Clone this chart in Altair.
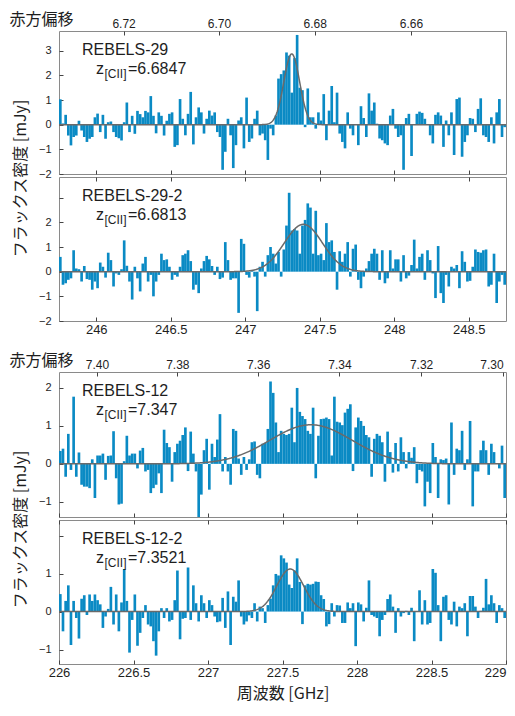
import altair as alt
import pandas as pd

REST_FREQ_GHZ = 1900.537

freq_range_top = [245.75, 248.75]
freq_range_bottom = [226.0, 229.0]
freq_ticks_top = [246.0, 246.5, 247.0, 247.5, 248.0, 248.5]
freq_ticks_bottom = [226.0, 226.5, 227.0, 227.5, 228.0, 228.5, 229.0]
z_ticks_top = [6.72, 6.70, 6.68, 6.66]
z_ticks_bottom = [7.40, 7.38, 7.36, 7.34, 7.32, 7.30]

source_names = ["REBELS-29", "REBELS-29-2", "REBELS-12", "REBELS-12-2"]
z_cii_values = ["=6.6847", "=6.6813", "=7.347", "=7.3521"]

fit_amplitude = [2.87, 1.92, 1.03, 1.12]
fit_center_ghz = [247.312, 247.39, 227.691, 227.552]
fit_sigma_ghz = [0.053, 0.128, 0.275, 0.09]

y_domains = [[-2.0, 3.8], [-2.0, 3.84], [-1.4, 2.42], [-1.38, 2.41]]
y_ticks = [[-2, -1, 0, 1, 2, 3], [-2, -1, 0, 1, 2, 3], [-1, 0, 1, 2], [-1, 0, 1, 2]]
y_hidden = [[], [3], [], [2]]

flux_rebels29 = [
    1.03, 0.05, 0.4, -0.44, -0.84, -0.5, -0.44, 0.16, -0.24, -0.5,
    -0.7, -0.57, -0.5, 0.3, 0.45, -0.3, 0.4, -0.57, 0.1, 0.13,
    -0.3, -0.5, -0.55, -0.64, 0.1, 0.9, -0.3, 0.36, -0.37, 0.56,
    0.43, 0.3, 0.56, 0.5, 1.16, 0.36, -0.35, 0.5, 0.36, -0.44,
    0.16,
    0.44, 0.5, -0.9, -0.83, 1.04, 0.24, -0.43, 0.44, 1.33, -0.8,
    0.3, 0.7, 0.5, -0.36, 0.24, 0.57, 0.37, 0.5, -0.3, -0.5,
    -1.83, -1.1, 0.24, -0.43, -1.76, -0.83, 0.17, 0.3, -0.96, 1.1,
    -0.7, -0.56, 0.24, 0.57, -0.43, -0.36, -0.63, -1.43, -0.16, -0.43,
    0.37,
    1.87, 2.05, 2.2, 2.93, 2.8, 1.3, 2.7, 3.64, 1.5, 1.4,
    -0.1, 1.47, 0.3, 0.3, -0.16, 0.5, 0.17, 1.24, -0.63, 0.57,
    1.57, 0.1, 1.3, -0.36, -0.7, -0.96, 0.5, -0.16, -0.43, 0.0,
    -0.83, 0.75, 0.27, -0.5, 1.27, 0.57, 0.9, 0.04, -0.56, -0.63,
    -0.76, -0.83, 0.37, 0.64, -0.16, -0.5, -0.43, -1.83, 0.27, 0.44,
    -1.27, 0.0, 0.44, 0.53, 0.48, 0.24, 0.0, -0.43, -0.76, 0.4,
    0.5, 0.37, -0.9, 0.17, -0.43, 0.5, -1.23, 1.04, 1.1, -1.3,
    -0.7, -0.43, 0.27, 0.24, -0.3, 0.64, 1.07, -0.43, -0.5, -0.7,
    0.3, -0.76, 0.5, 1.04, -0.5, -0.1,
]

flux_rebels29_2 = [
    0.6, -0.53, -0.47, -0.33, -0.27, 0.87, 0.13, 0.1, -0.4,
    0.23, -0.3, -0.33, -0.73, -0.4, -0.67, 0.37, 0.2, -0.24, 0.77,
    0.47, -0.6, -0.07, -0.13, 0.1, 1.27, 0.24, -0.4, -1.13,
    0.2, -0.27, -0.8, 0.33, 0.6, -0.4, -0.13, -1.0, -0.4, -0.13,
    0.73, 0.47, 0.5, 0.2, -0.33, -0.13, -0.2, 0.2, 0.67,
    0.73, 0.87, 0.43, -0.73, -0.53, -0.87, 0.13, 0.43, 0.64, 0.5,
    0.23, -0.13, 0.2, -0.3, -0.24, 1.2, 0.47, -0.33, -0.27,
    -0.27, -1.67, 1.33, 1.13, -0.13, -0.24, 0.07, -0.2, -1.6, 0.2,
    0.4, -0.2, 0.67, 1.0, 0.73, 0.33,
    0.8, -0.2, 0.9, 1.87, 3.2, 1.67, 1.73, 1.67, 0.73, 1.87,
    2.1, 2.77, 2.6, 0.73, 2.47, 0.67, 0.73, 0.47, 1.97, 1.2,
    1.27, 0.8, -0.73, 0.83, 0.4, 0.73, 1.2, -0.2, 0.93, 1.1,
    -0.33, -0.67, -0.2, 0.13, 0.43, 0.73, 0.93, 0.73, -0.33,
    0.87, -0.47, -0.27, 0.87, 0.13, 0.5, 0.5, -0.4, 0.67,
    -0.27, -0.16, 0.27, 1.3, 0.13, 0.6, 0.73, -0.33, 0.87,
    0.47, -0.07, -1.07, 1.04, -0.87, -1.27, -0.13, -0.6, 0.2, 0.13,
    0.27, -0.67, 0.83, 0.4, -0.4, -0.37, 0.2, 0.9, 0.8,
    0.77, 0.87, 0.9, -0.6, -0.53, 0.73, -1.27, -0.4, -0.13,
    -0.53,
]

flux_rebels12 = [
    0.34, 0.4, -0.34, 0.79, -0.16, 1.77, -0.34, 0.3, -0.55,
    -0.6, -0.6, -0.64, 0.12, -0.9, 0.22, 0.22, 0.27, -0.42, 0.21, 0.22,
    0.86, -0.38, -1.07, -1.05, 0.07, 0.74, 0.22, 0.27,
    0.27, -0.12, 0.35, 0.42, -0.2, -0.16, -0.77, -0.64, -0.55, -0.25,
    -0.77, 0.9, 0.55, 0.44, -0.47, 0.31, 0.53, 0.61, 0.76, 0.96,
    -0.19, 0.85, 0.27, -0.2, -1.45, -0.81, 0.36, 0.66, -0.68, 0.53,
    0.18, 0.64, 1.31, -0.2, 0.18, -0.2, -0.55, 0.92, 0.87, 0.14,
    -0.29, 0.18, -0.16, 0.12, 0.57, 0.59, -0.29, -0.38, 0.53, 0.55,
    0.92, 2.17, 1.87, 1.09, 0.31, 0.87, 0.79,
    0.76, 0.79, 1.48, 0.57, 2.0, 1.37, 1.26, 1.18, 0.87,
    0.79, 1.48, -0.38, 0.74, 1.18, 1.19, 1.22, 1.18, 0.22, 1.77,
    1.11, 1.09, 1.02, 1.35,
    1.45, 1.57, -0.19, 0.96, 1.22, 1.13, 1.0, 0.76, 0.7, -0.34,
    0.66, 0.79, 0.74, 0.57, -0.47, 0.85, 0.31, -0.23, 0.55, -0.2,
    0.7, 0.31,
    -0.12, 0.31, 0.16, 0.44, -0.51, -0.16,
    -0.2, -1.12, -0.47, -0.77, 0.55, 0.18, -0.9, 0.12,
    0.1, 0.14, -1.07, 1.09, -0.29, 0.4, 0.36, 0.87,
    -0.16, 0.12, 1.13, -1.12, -0.2, -0.2, 0.36, 0.61, 0.36, -0.29,
    0.53, 0.31, 0.0, -0.12, 0.48, -0.9,
]

flux_rebels12_2 = [
    0.46, -0.52, 0.28, 0.69, -0.88, 0.28, -0.17, -0.71, 0.34, 0.43,
    -0.09, 0.45, 0.28, 0.45, 0.3, 0.19, -0.43, -0.13, 0.07,
    0.65, -0.34, 0.45, -0.52, 0.24, 1.12, 0.28, -1.08, -0.22, 0.45,
    -0.9, -0.56, -0.17, 0.17, -0.34, -0.39, -0.78, -1.16, -0.52,
    0.09, -0.17, 0.09, -0.26, -0.22, 0.3, 1.08, -0.73, -0.19, -0.17,
    1.16, -0.22, 0.69, 0.22, -0.26, 0.43, 0.22, -0.17, 0.3, 0.17,
    -0.13, -0.28, -0.26, 0.36, -0.43, 0.53, -0.88, 0.39, 0.26, 0.82,
    -0.13, -0.34, -0.26, -0.1, -0.17, 0.22, -0.26, 0.13, 0.09, -0.3,
    0.17, 0.34, 0.69, 0.99,
    0.95, 1.48, 1.4, 1.29, 0.71, 0.62, 1.08, 1.4, 0.78, -0.33,
    0.69, 0.73, 0.71, 0.73, 0.79, 0.78, 0.43, 0.33, -0.39, -0.33,
    0.22, -0.13, 0.17, 0.16, -0.3, -0.3, 0.24, 0.09, 0.22, -0.91,
    0.24, 0.19, -0.26, 0.1, 0.82, -0.09, -0.13, -0.17, -0.65, -0.22,
    -0.09, 0.33, 0.45, 0.13, -0.56, 0.09, -0.13, -0.04, 0.02, -0.09,
    0.1, -0.78, 0.0, 0.56, -0.34, 0.3, -0.34, -0.3, 1.12, 1.02,
    0.17, -0.78, 0.39, 0.43, -0.22, -0.34, 0.26, -0.39, 0.13, 0.09,
    0.22, -0.65, 0.41, 0.41, 0.13, -0.17, 0.02, 0.1, 0.86, 0.19,
    0.43, 0.22, -0.3, 0.17, 0.09, -0.17,
]

fluxes = [flux_rebels29, flux_rebels29_2, flux_rebels12, flux_rebels12_2]

BAR_COLOR = "#0a8ac4"
FIT_COLOR = "#6a6a6a"
TXT = "#1e1e1e"
TICK = "#444444"
NUM_FONT = "Liberation Sans"
JP_FONT = "Noto Sans CJK JP"
PLOT_W = 447
HEIGHTS = [143, 144, 145, 144]


def make_panel(i, frange, fticks, zticks, freq_labels, ytitle_y, xtitle):
    flux = fluxes[i]
    n = len(flux)
    w = (frange[1] - frange[0]) / n
    df = pd.DataFrame({
        "lo": [frange[0] + k * w for k in range(n)],
        "hi": [frange[0] + (k + 1) * w for k in range(n)],
        "flux": flux,
    })
    xs = alt.Scale(domain=frange, nice=False, zero=False)
    ys = alt.Scale(domain=y_domains[i], nice=False, zero=False)

    if y_hidden[i]:
        cond = " || ".join(f"datum.value == {v}" for v in y_hidden[i])
        lab_expr = f"({cond}) ? '' : datum.label"
    else:
        lab_expr = "datum.label"

    ykw = dict(values=y_ticks[i], offset=-4, tickSize=4, domain=False, grid=False,
               tickColor=TICK, labelFont=NUM_FONT, labelFontSize=11, labelColor=TXT,
               labelPadding=8, labelExpr=lab_expr)
    if ytitle_y is not None:
        ykw.update(title="フラックス密度 [mJy]", titleFont=JP_FONT, titleFontSize=16,
                   titleFontWeight="normal", titleColor=TXT, titleX=-35, titleY=ytitle_y,
                   titleAlign="center", titleBaseline="bottom")
    else:
        ykw.update(title=None)
    yaxis = alt.Axis(**ykw)

    bkw = dict(orient="bottom", values=fticks, offset=-4, tickSize=4, domain=False,
               grid=False, tickColor=TICK, labels=freq_labels, labelFont=NUM_FONT,
               labelFontSize=13, labelColor=TXT, labelPadding=2, format="~g")
    if freq_labels:
        bkw["labelAlign"] = {"condition": {"test": f"datum.value >= {frange[1] - 0.001}",
                                           "value": "right"}, "value": "center"}
    if xtitle:
        bkw.update(title="周波数 [GHz]", titleFont=JP_FONT, titleFontSize=16,
                   titleFontWeight="normal", titleColor=TXT, titlePadding=6)
    else:
        bkw.update(title=None)
    bottom_axis = alt.Axis(**bkw)

    if zticks:
        tkw = dict(orient="top", values=[REST_FREQ_GHZ / (1 + z) for z in zticks],
                   labelExpr=f"format({REST_FREQ_GHZ}/datum.value - 1, '.2f')",
                   labelAlign={"condition": {"test": f"datum.value >= {frange[1] - 0.05}",
                                             "value": "right"}, "value": "center"},
                   offset=-4, tickSize=4, domain=False, grid=False, tickColor=TICK,
                   labelFont=NUM_FONT, labelFontSize=12, labelColor=TXT, labelPadding=1,
                   title="赤方偏移", titleFont=JP_FONT, titleFontSize=16,
                   titleFontWeight="normal", titleColor=TXT, titleAngle=0,
                   titleAlign="left", titleBaseline="alphabetic", titleX=-50, titleY=-11)
    else:
        tkw = dict(orient="top", values=fticks, offset=-4, tickSize=4, domain=False,
                   grid=False, tickColor=TICK, labels=False, title=None)
    top_axis = alt.Axis(**tkw)

    bars = alt.Chart(df).mark_bar(color=BAR_COLOR, clip=True).encode(
        x=alt.X("lo:Q", scale=xs, axis=bottom_axis),
        x2="hi:Q",
        y=alt.Y("flux:Q", scale=ys, axis=yaxis),
        y2=alt.datum(0),
    )

    a, c, s = fit_amplitude[i], fit_center_ghz[i], fit_sigma_ghz[i]
    fit = alt.Chart(alt.sequence(frange[0], frange[1] + 0.0001, 0.004, as_="nu")).transform_calculate(
        g=f"{a}*exp(-0.5*pow((datum.nu-{c})/{s},2))"
    ).mark_line(color=FIT_COLOR, strokeWidth=1.5, clip=True).encode(
        x=alt.X("nu:Q", scale=xs, axis=top_axis),
        y=alt.Y("g:Q", scale=ys, axis=yaxis),
    )

    def label(text, x, y, size):
        return alt.Chart(pd.DataFrame({"t": [text]})).mark_text(
            align="left", baseline="alphabetic", font=NUM_FONT, fontSize=size, color=TXT
        ).encode(text="t:N", x=alt.value(x), y=alt.value(y))

    texts = [
        label(source_names[i], 23, 24, 16),
        label("z", 37, 43, 16),
        label("[CII]", 45.5, 46.5, 12),
        label(z_cii_values[i], 69, 43, 16),
    ]

    return alt.layer(bars, fit, *texts).resolve_axis(x="independent").properties(
        width=PLOT_W, height=HEIGHTS[i]
    )


p1 = make_panel(0, freq_range_top, freq_ticks_top, z_ticks_top, False, 147, False)
p2 = make_panel(1, freq_range_top, freq_ticks_top, None, True, None, False)
p3 = make_panel(2, freq_range_bottom, freq_ticks_bottom, z_ticks_bottom, False, 157, False)
p4 = make_panel(3, freq_range_bottom, freq_ticks_bottom, None, True, None, True)

spacer = alt.Chart(pd.DataFrame({"a": [0]})).mark_point(opacity=0).encode(
    x=alt.X("a:Q", axis=None), y=alt.Y("a:Q", axis=None)
).properties(width=PLOT_W, height=45, view=alt.ViewBackground(stroke="transparent"))

chart = alt.vconcat(p1, p2, spacer, p3, p4, spacing=3, bounds="flush").properties(
    padding={"left": 0, "top": 2, "right": 0, "bottom": 0}
).configure_view(stroke="#8a8a8a", strokeWidth=1)

chart.save("out.html", embed_options={"renderer": "svg", "actions": False})
